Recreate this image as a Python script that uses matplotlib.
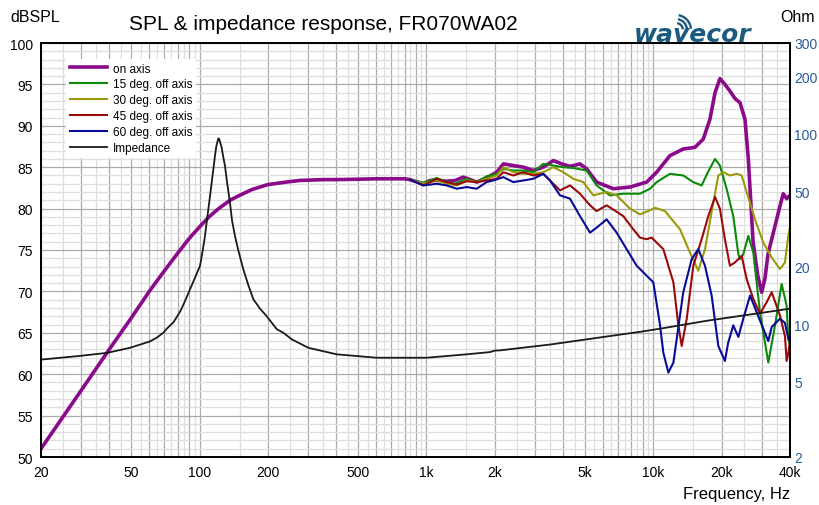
import matplotlib
matplotlib.use("Agg")
import matplotlib.pyplot as plt
from matplotlib.patches import Arc
from matplotlib.ticker import FixedLocator, FixedFormatter, NullLocator, NullFormatter

plt.rcParams['font.family'] = ['Liberation Sans', 'DejaVu Sans']

W, H = 819, 506

# on-axis SPL, low part (all curves the same here)
freq_low = [20, 30, 40, 50, 60, 70, 80, 90, 100, 110, 120, 136, 150, 170, 200, 240, 277, 350, 400,
            500, 600, 800]
spl_low = [51.0, 58.0, 63.0, 66.8, 70.0, 72.5, 74.6, 76.4, 77.8, 79.0, 79.9, 81.0, 81.6, 82.3, 82.9,
           83.2, 83.4, 83.5, 83.5, 83.55, 83.6, 83.6]

# on-axis SPL above ~850 Hz
freq_on = [845, 968, 1036, 1130, 1227, 1340, 1452, 1560, 1664, 1841, 2038, 2182, 2414, 2672, 2957,
           3272, 3621, 3944, 4290, 4746, 5081, 5622, 6655, 7884, 9338, 10340, 11830, 13540, 15250,
           16590, 17750, 18690, 19640, 20660, 21740, 22880, 24070, 25330, 26200, 27500, 28800,
           30010, 31000, 32000, 33220, 36120, 37340, 38660, 40000]
spl_on = [83.5, 83.0, 83.4, 83.4, 83.3, 83.4, 83.8, 83.5, 83.2, 83.7, 84.4, 85.4, 85.2, 85.0, 84.6,
          85.0, 85.8, 85.4, 85.1, 85.4, 84.8, 83.2, 82.4, 82.6, 83.2, 84.4, 86.4, 87.2, 87.4,
          88.4, 90.8, 94.0, 95.7, 95.0, 94.2, 93.3, 92.8, 90.8, 86.0, 76.0, 72.0,
          69.9, 71.5, 74.5, 76.3, 80.3, 81.8, 81.2, 81.6]

freq_15 = [845, 968, 1109, 1227, 1340, 1503, 1664, 1841, 2038, 2182, 2414, 2672, 2957, 3272, 3621,
           4010, 4437, 5081, 5622, 6437, 7365, 8730, 9660, 10340, 11830, 13540, 14990, 16320,
           17460, 18690, 19640, 21020, 22490, 23680, 24070, 24900, 26200, 27560, 29490, 32090,
           34360, 36740, 38660, 39300, 40000]
spl_15 = [83.5, 83.1, 83.7, 83.2, 83.0, 83.6, 83.2, 83.9, 84.2, 84.8, 84.6, 84.6, 84.4, 85.4, 85.2,
          85.0, 84.9, 84.6, 82.8, 81.6, 81.8, 81.8, 82.4, 83.2, 84.2, 84.0, 83.2, 82.8,
          84.5, 86.0, 85.2, 82.4, 79.1, 74.5, 73.9, 74.5, 76.7, 74.7, 67.5, 61.4,
          65.9, 70.9, 68.3, 64.3, 63.5]

freq_30 = [845, 968, 1109, 1227, 1359, 1503, 1664, 1841, 2038, 2182, 2414, 2672, 2957, 3272, 3621,
           4010, 4437, 4913, 5436, 6222, 6888, 7884, 8730, 9660, 10160, 11250, 13100, 14490,
           15770, 16880, 18060, 19330, 20320, 21740, 23290, 24490, 25760, 28040, 30500, 33220,
           36120, 38000, 39300, 40000]
spl_30 = [83.5, 83.0, 83.4, 83.0, 82.8, 83.4, 83.2, 83.6, 84.0, 85.0, 84.4, 84.2, 84.2, 84.4, 85.0,
          84.4, 83.6, 83.2, 81.6, 82.0, 81.6, 80.0, 79.3, 79.8, 80.1, 79.7, 77.5, 74.7,
          72.5, 75.1, 79.6, 84.0, 84.4, 84.0, 84.2, 84.0, 82.0, 78.7, 75.9, 74.1,
          72.7, 73.5, 76.7, 77.8]

freq_45 = [845, 968, 1109, 1227, 1359, 1503, 1664, 1841, 2038, 2182, 2414, 2672, 2957, 3272, 3501,
           3876, 4290, 4746, 5255, 5622, 6222, 7365, 8155, 8730, 9338, 9820, 11060, 12250, 12880,
           13330, 14030, 14990, 16320, 17460, 18690, 19640, 20660, 21740, 22880, 24490, 25760,
           27560, 29490, 31570, 33220, 36120, 38000, 38660, 39300, 40000]
spl_45 = [83.5, 82.8, 83.6, 83.2, 82.9, 83.3, 83.2, 83.4, 83.6, 84.4, 84.0, 84.4, 84.0, 84.2, 83.4,
          82.2, 82.8, 81.8, 80.4, 79.7, 80.4, 79.1, 77.5, 76.5, 76.3, 76.5, 75.1, 71.1, 65.9,
          63.4, 66.7, 73.1, 76.3, 79.1, 81.4, 80.0, 76.3, 73.1, 73.5, 74.3, 71.5,
          69.1, 67.3, 68.7, 69.9, 67.1, 64.6, 61.6, 62.5, 64.0]

freq_60 = [845, 968, 1109, 1227, 1359, 1503, 1664, 1841, 1971, 2182, 2414, 2672, 2957, 3272, 3501,
           3876, 4290, 4746, 5255, 5622, 6222, 6888, 7620, 8440, 9338, 9990, 10340, 10700, 11060,
           11640, 12250, 13540, 14750, 15770, 16880, 18060, 19330, 20660, 21360, 22490, 23680,
           24900, 26670, 28510, 30500, 32090, 33220, 36120, 38000, 39300, 40000]
spl_60 = [83.5, 82.8, 83.0, 82.8, 82.4, 82.6, 82.4, 83.2, 83.4, 83.8, 83.2, 83.4, 83.6, 84.2, 83.4,
          81.6, 81.2, 79.1, 77.1, 77.7, 78.7, 77.1, 75.1, 73.1, 71.9, 71.1, 68.5, 65.9, 62.6,
          60.2, 61.4, 69.9, 73.9, 75.1, 73.1, 69.5, 63.4, 61.6, 63.8, 65.9, 64.5,
          66.7, 69.5, 67.5, 65.5, 64.0, 65.7, 66.7, 66.2, 64.3, 64.0]

# impedance, Ohm
freq_imp = [20, 29.7, 39, 49.4, 60.4, 65, 69.2, 72, 76.6, 79, 82, 85, 90.7, 95, 100.4, 103, 105.6,
            108, 111.2, 114, 116.9, 118.5, 120.9, 122, 125, 127, 129.4, 132, 136.1, 139, 143.2,
            148, 155.8, 164, 172.5, 185, 197.6, 218.7, 233.9, 255, 277, 301.4, 402, 603, 1002,
            1503, 1905, 2000, 2109, 3501, 5817, 8730, 10700, 17170, 39300, 40000]
ohm_imp = [6.5, 6.8, 7.05, 7.5, 8.1, 8.5, 9.0, 9.5, 10.2, 10.8, 11.6, 12.7, 15.2, 17.3, 20.2, 24.0,
           29.0, 36.0, 47.2, 60.0, 76.6, 86.0, 94.5, 94.0, 85.0, 76.0, 67.8, 56.0, 43.5, 35.0,
           29.0, 24.5, 19.4, 16.0, 13.5, 12.0, 11.0, 9.4, 9.0, 8.3, 7.9, 7.5, 6.93, 6.65, 6.65,
           6.93, 7.12, 7.25, 7.27, 7.8, 8.5, 9.1, 9.45, 10.4, 12.0, 12.05]

x_labels = {20: '20', 50: '50', 100: '100', 200: '200', 500: '500', 1000: '1k', 2000: '2k',
            5000: '5k', 10000: '10k', 20000: '20k', 40000: '40k'}
ohm_ticks = [2, 5, 10, 20, 50, 100, 200, 300]


fig = plt.figure(figsize=(W / 100, H / 100), dpi=100)
ax = fig.add_axes([41 / W, 1 - 458 / H, 749 / W, 414 / H])
ax.set_xscale('log')
ax.set_xlim(20, 40000)
ax.set_ylim(50, 100)

# log grid: dark lines on 1..9 x decade, light ones halfway
grid_major = [k * 10 ** d for d in range(1, 5) for k in range(1, 10) if 20 <= k * 10 ** d <= 40000]
grid_minor = [(k + 0.5) * 10 ** d for d in range(1, 5) for k in range(1, 10)
              if 20 < (k + 0.5) * 10 ** d < 40000]
ax.xaxis.set_major_locator(FixedLocator(grid_major))
ax.xaxis.set_major_formatter(FixedFormatter([x_labels.get(v, '') for v in grid_major]))
ax.xaxis.set_minor_locator(FixedLocator(grid_minor))
ax.xaxis.set_minor_formatter(NullFormatter())
ax.yaxis.set_major_locator(FixedLocator(range(50, 101, 5)))
ax.yaxis.set_minor_locator(FixedLocator(range(50, 101, 1)))
ax.grid(which='major', color='#ababab', lw=0.9)
ax.grid(which='minor', color='#dedede', lw=0.9)
ax.set_axisbelow(True)
ax.tick_params(which='both', length=0)
ax.tick_params(axis='x', labelsize=10, pad=6)
ax.tick_params(axis='y', labelsize=10, pad=6)
for s in ax.spines.values():
    s.set_color('black')
    s.set_linewidth(1.3)

l_on, = ax.plot(freq_low + freq_on, spl_low + spl_on, color='#8a0a8a', lw=2.6, label='on axis')
l15, = ax.plot(freq_15, spl_15, color='#0a8a0a', lw=1.5, label='15 deg. off axis')
l30, = ax.plot(freq_30, spl_30, color='#9a9a0a', lw=1.5, label='30 deg. off axis')
l45, = ax.plot(freq_45, spl_45, color='#990a0a', lw=1.5, label='45 deg. off axis')
l60, = ax.plot(freq_60, spl_60, color='#0a0a99', lw=1.5, label='60 deg. off axis')

ax2 = ax.twinx()
ax2.set_yscale('log')
ax2.set_ylim(2, 300)
ax2.yaxis.set_major_locator(FixedLocator(ohm_ticks))
ax2.yaxis.set_major_formatter(FixedFormatter([str(v) for v in ohm_ticks]))
ax2.yaxis.set_minor_locator(NullLocator())
ax2.tick_params(axis='y', length=0, labelsize=10, pad=3, labelcolor='#2a5d9a')
for s in ax2.spines.values():
    s.set_color('black')
    s.set_linewidth(1.3)
l_imp, = ax2.plot(freq_imp, ohm_imp, color='#1a1a1a', lw=1.3, label='Impedance')

handles = [l_on, l15, l30, l45, l60, l_imp]
ax2.legend(handles, [h.get_label() for h in handles], loc='upper left',
           bbox_to_anchor=(66 / W, 1 - 60 / H), bbox_transform=fig.transFigure,
           frameon=True, facecolor='white', edgecolor='none', framealpha=1, fancybox=False,
           fontsize=8.5, handlelength=3.2, handletextpad=0.5, labelspacing=0.33,
           borderpad=0.3, borderaxespad=0)

fig.text(323 / W, 1 - 25 / H, 'SPL & impedance response, FR070WA02', ha='center', va='center',
         fontsize=15)
fig.text(10 / W, 1 - 17 / H, 'dBSPL', ha='left', va='center', fontsize=11.5)
fig.text(780 / W, 1 - 17 / H, 'Ohm', ha='left', va='center', fontsize=11.5)
fig.text(790 / W, 1 - 495 / H, 'Frequency, Hz', ha='right', va='center', fontsize=12)

# logo
logo = fig.add_axes([620 / W, 1 - 50 / H, 150 / W, 46 / H])
logo.set_xlim(620, 770)
logo.set_ylim(50, 4)
logo.axis('off')
logo_color = '#1d5a80'
logo.text(693, 35, 'wavecor', ha='center', va='center', fontsize=18, fontweight='bold',
          style='italic', color=logo_color, family='DejaVu Sans')
for r in [7, 11, 15]:
    logo.add_patch(Arc((676, 31), 2 * r, 2 * r, theta1=-80, theta2=-5, color=logo_color, lw=1.7,
                       transform=logo.transData))

fig.savefig('out.png', dpi=100)
